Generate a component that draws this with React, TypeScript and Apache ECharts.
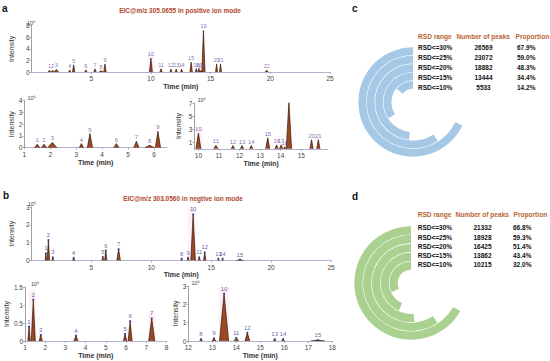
import React, { useEffect, useRef } from "react";
import * as echarts from "echarts";

// ---------- data ----------
const posPeakIds = ["1","2","3","4","5","6","7","8","9","10","11","12","13","14","15","16","17","18","19","20","21","22"];
const posTimes = [1.5, 1.76, 2.08, 3.2, 3.53, 4.55, 5.32, 5.83, 6.15, 10.0, 10.85, 11.68, 12.12, 12.57, 13.37, 13.8, 14.02, 14.2, 14.4, 15.5, 15.83, 19.7];
const posHeights = [0.3, 0.3, 0.45, 0.35, 1.2, 0.35, 0.55, 0.2, 1.4, 2.4, 0.55, 0.5, 0.5, 0.5, 1.7, 0.6, 0.6, 0.3, 7.2, 1.4, 1.4, 0.3];
const posWidths = [0.1, 0.1, 0.18, 0.08, 0.1, 0.1, 0.1, 0.18, 0.1, 0.12, 0.1, 0.08, 0.08, 0.08, 0.1, 0.08, 0.08, 0.06, 0.13, 0.08, 0.08, 0.15];

const negPeakIds = ["1","2","3","4","5","6","7","8","9","10","11","12","13","14","15"];
const negTimes = [1.2, 1.41, 1.78, 3.52, 5.95, 6.2, 7.27, 12.53, 13.07, 13.49, 14.0, 14.46, 15.6, 15.95, 17.4];
const negHeights = [0.4, 1.15, 0.17, 0.15, 0.2, 0.55, 0.63, 0.1, 0.15, 2.58, 0.17, 0.45, 0.1, 0.1, 0.05];
const negWidths = [0.06, 0.1, 0.08, 0.1, 0.08, 0.1, 0.15, 0.06, 0.08, 0.19, 0.1, 0.1, 0.06, 0.06, 0.3];

const rsdRanges = ["RSD<=30%", "RSD<=25%", "RSD<=20%", "RSD<=15%", "RSD<=10%"];
const posPeakCounts = ["26569", "23072", "18882", "13444", "5533"];
const posProportions = [67.9, 59.0, 48.3, 34.4, 14.2];
const negPeakCounts = ["21332", "18928", "16425", "13862", "10215"];
const negProportions = [66.8, 59.3, 51.4, 43.4, 32.0];

const tableHeaders = ["RSD range", "Number of peaks", "Proportion"];
const posTitle = "EIC@m/z 305.0655 in positive ion mode";
const negTitle = "EIC@m/z 303.0560 in negtive ion mode";

// ---------- helpers ----------
const FONT = '"Liberation Sans", Arial, sans-serif';

function peakLine(times: number[], heights: number[], widths: number[]) {
  const pts: any[] = [];
  times.forEach((t, i) => {
    pts.push([t - widths[i], 0], [t, heights[i]], [t + widths[i], 0], [t + widths[i], "-"]);
  });
  return pts;
}

function peakLabels(ids: string[], times: number[], heights: number[], xmin: number, xmax: number) {
  const out: any[] = [];
  times.forEach((t, i) => {
    if (t >= xmin && t <= xmax) out.push([t, heights[i], ids[i]]);
  });
  return out;
}

type Panel = {
  grid: { left: number; top: number; width: number; height: number };
  xmin: number; xmax: number; xInterval?: number; xCustom?: number[]; showXMin: boolean; showXMax: boolean;
  ymax: number; yInterval?: number; yCustom?: number[];
  yNameGap: number; xNameGap: number; labelSize: number;
  mode: "pos" | "neg";
  marks?: any[];
};

const panels: Panel[] = [
  { grid: { left: 23.5, top: 25.7, width: 306.5, height: 46.3 }, xmin: 0, xmax: 25, xInterval: 5, showXMin: false, showXMax: true, ymax: 8, yInterval: 2, yNameGap: 9, xNameGap: 5, labelSize: 5.5, mode: "pos",
    marks: [[{ xAxis: 9.8, yAxis: 0 }, { xAxis: 10.25, yAxis: 3.2 }]] },
  { grid: { left: 24.3, top: 100.7, width: 142.7, height: 47 }, xmin: 1, xmax: 6.5, xInterval: 1, showXMin: true, showXMax: false, ymax: 4, yInterval: 1, yNameGap: 9, xNameGap: 10, labelSize: 6, mode: "pos" },
  { grid: { left: 194.3, top: 103.2, width: 133.7, height: 45.6 }, xmin: 9.8, xmax: 16.3, xCustom: [10, 11, 12, 13, 14, 15, 16], showXMin: true, showXMax: false, ymax: 7, yCustom: [0, 1, 3, 5, 7], yNameGap: 12, xNameGap: 9.5, labelSize: 6, mode: "pos",
    marks: [[{ xAxis: 9.88, yAxis: 0 }, { xAxis: 10.2, yAxis: 3.3 }]] },
  { grid: { left: 25, top: 207, width: 306, height: 53.5 }, xmin: 0, xmax: 25, xInterval: 5, showXMin: false, showXMax: true, ymax: 3, yInterval: 1, yNameGap: 9, xNameGap: 8, labelSize: 5.8, mode: "neg",
    marks: [[{ xAxis: 13.05, yAxis: 0 }, { xAxis: 13.7, yAxis: 3 }]] },
  { grid: { left: 25, top: 287, width: 141.5, height: 54 }, xmin: 1, xmax: 8, xInterval: 1, showXMin: true, showXMax: true, ymax: 1.5, yInterval: 0.5, yNameGap: 12, xNameGap: 11, labelSize: 6, mode: "neg",
    marks: [[{ xAxis: 1.2, yAxis: 0 }, { xAxis: 1.55, yAxis: 1.4 }], [{ xAxis: 7.1, yAxis: 0 }, { xAxis: 7.45, yAxis: 0.8 }]] },
  { grid: { left: 188.3, top: 286, width: 144, height: 55 }, xmin: 12, xmax: 18, xInterval: 1, showXMin: true, showXMax: true, ymax: 3, yInterval: 1, yNameGap: 9, xNameGap: 6, labelSize: 6, mode: "neg",
    marks: [[{ xAxis: 13.28, yAxis: 0 }, { xAxis: 13.7, yAxis: 2.9 }]] },
];

const tenSixPos = [[27, 22.5], [27.5, 97.5], [197.5, 100], [28, 203.5], [31, 283.5], [191.5, 283]];

function buildOption() {
  const grids: any[] = [];
  const xAxes: any[] = [];
  const yAxes: any[] = [];
  const series: any[] = [];

  panels.forEach((p, gi) => {
    grids.push({ ...p.grid });
    const xLabel: any = { fontSize: 6.5, color: "#444", margin: 3, fontFamily: FONT, showMinLabel: p.showXMin, showMaxLabel: p.showXMax };
    const xTick: any = { show: true, length: 2, inside: false, lineStyle: { color: "#888", width: 0.6 } };
    if (p.xCustom) { xLabel.customValues = p.xCustom; xTick.customValues = p.xCustom; }
    xAxes.push({
      type: "value", gridIndex: gi, min: p.xmin, max: p.xmax,
      ...(p.xInterval ? { interval: p.xInterval } : {}),
      axisLine: { show: true, onZero: false, lineStyle: { color: "#9ba0c6", width: 0.8 } },
      axisTick: xTick, axisLabel: xLabel, splitLine: { show: false },
      name: "Time (min)", nameLocation: "middle", nameGap: p.xNameGap,
      nameTextStyle: { fontSize: 7, color: "#333", fontWeight: "bold", fontFamily: FONT },
    });
    const yLabel: any = { fontSize: 6.5, color: "#444", margin: 2, fontFamily: FONT };
    const yTick: any = { show: true, length: 2, lineStyle: { color: "#888", width: 0.6 } };
    if (p.yCustom) { yLabel.customValues = p.yCustom; yTick.customValues = p.yCustom; }
    yAxes.push({
      type: "value", gridIndex: gi, min: 0, max: p.ymax,
      ...(p.yInterval ? { interval: p.yInterval } : {}),
      axisLine: { show: true, lineStyle: { color: "#888", width: 0.8 } },
      axisTick: yTick, axisLabel: yLabel, splitLine: { show: false },
      name: "Intensity", nameLocation: "middle", nameGap: p.yNameGap,
      nameTextStyle: { fontSize: 7, color: "#333", fontFamily: FONT },
    });
    const isPos = p.mode === "pos";
    const times = isPos ? posTimes : negTimes;
    const heights = isPos ? posHeights : negHeights;
    const widths = isPos ? posWidths : negWidths;
    const ids = isPos ? posPeakIds : negPeakIds;
    series.push({
      type: "line", xAxisIndex: gi, yAxisIndex: gi, clip: true, symbol: "none",
      data: peakLine(times, heights, widths),
      lineStyle: { color: "#3a1608", width: 0.7 },
      areaStyle: { color: "#9a4a22", opacity: 1 },
      markArea: p.marks ? { silent: true, itemStyle: { color: "rgba(248, 200, 224, 0.28)" }, data: p.marks } : undefined,
      z: 3,
    });
    series.push({
      type: "scatter", xAxisIndex: gi, yAxisIndex: gi, clip: true,
      symbolSize: isPos ? 0 : 2,
      itemStyle: { color: "#2a2a7a" },
      data: peakLabels(ids, times, heights, p.xmin, p.xmax),
      label: {
        show: true, position: "top", distance: 1, fontSize: p.labelSize, fontFamily: FONT,
        color: isPos ? "#6a4a9c" : "#34348c",
        formatter: (q: any) => q.value[2],
      },
      z: 4,
    });
  });

  // polar bars
  const innerToOuter = rsdRanges.slice().reverse();
  const polar = [
    { center: [413, 102], radius: [13, 55] },
    { center: [411, 283], radius: [13, 57] },
  ];
  const angleAxis = [0, 1].map((i) => ({ polarIndex: i, type: "value", min: 0, max: 100, startAngle: 90, clockwise: false, show: false }));
  const radiusAxis = [0, 1].map((i) => ({ polarIndex: i, type: "category", data: innerToOuter, show: false }));
  series.push({
    type: "bar", coordinateSystem: "polar", polarIndex: 0,
    data: posProportions.slice().reverse(), barWidth: 7.8, barGap: "-100%",
    itemStyle: { color: "#a5c8e6" },
  });
  series.push({
    type: "bar", coordinateSystem: "polar", polarIndex: 1,
    data: negProportions.slice().reverse(), barWidth: 8.2, barGap: "-100%",
    itemStyle: { color: "#aad190" },
  });

  // graphic texts
  const txt = (text: string, x: number, y: number, font: string, fill: string, align = "left") => ({
    type: "text", x, y, silent: true,
    style: { text, fill, font, align, verticalAlign: "middle", textAlign: align, textVerticalAlign: "middle" },
  });
  const g: any[] = [];
  g.push(txt("a", 2, 8, `bold 10px ${FONT}`, "#111"));
  g.push(txt("b", 3, 195, `bold 10px ${FONT}`, "#111"));
  g.push(txt("c", 352, 8, `bold 10px ${FONT}`, "#111"));
  g.push(txt("d", 352, 196, `bold 10px ${FONT}`, "#111"));
  g.push(txt(posTitle, 180, 10, `bold 6.5px ${FONT}`, "#b0462c", "center"));
  g.push(txt(negTitle, 183, 198, `bold 6.5px ${FONT}`, "#b0462c", "center"));
  tenSixPos.forEach(([x, y]) => g.push(txt("10⁶", x, y, `5.5px ${FONT}`, "#444")));

  const hdrColor = "#b8652f";
  const tables = [
    { hy: 36, ry: 47.8, dy: 9.8, cols: [418, 456.5, 515.5], numC: 483.5, propL: 517, counts: posPeakCounts, props: posProportions },
    { hy: 214, ry: 227.7, dy: 9.3, cols: [417.7, 455.5, 513.5], numC: 482.5, propL: 513, counts: negPeakCounts, props: negProportions },
  ];
  tables.forEach((t) => {
    tableHeaders.forEach((h, i) => g.push(txt(h, t.cols[i], t.hy, `bold 6.6px ${FONT}`, hdrColor)));
    rsdRanges.forEach((r, i) => {
      const y = t.ry + i * t.dy;
      g.push(txt(r, t.cols[0], y, `bold 6.5px ${FONT}`, "#111"));
      g.push(txt(t.counts[i], t.numC, y, `bold 6.5px ${FONT}`, "#111", "center"));
      g.push(txt(t.props[i].toFixed(1) + "%", t.propL, y, `bold 6.5px ${FONT}`, "#111"));
    });
  });

  return {
    animation: false,
    backgroundColor: "#ffffff",
    grid: grids, xAxis: xAxes, yAxis: yAxes,
    polar, angleAxis, radiusAxis,
    series, graphic: g,
  };
}

export default function App() {
  const ref = useRef<HTMLDivElement>(null);
  useEffect(() => {
    document.body.style.margin = "0";
    const chart = echarts.init(ref.current!, undefined, { renderer: "svg" });
    chart.setOption(buildOption() as any);
    return () => chart.dispose();
  }, []);
  return <div ref={ref} style={{ position: "fixed", left: 0, top: 0, width: 550, height: 361 }} />;
}
